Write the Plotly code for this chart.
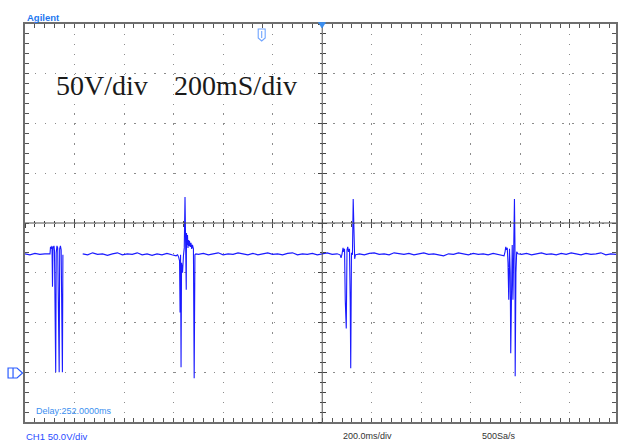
import plotly.graph_objects as go

# ---------------- data (time in ms, voltage in V; 200 ms/div, 50 V/div) ----------------
t_base_a = [0, 20, 40, 60, 80, 96]
v_base_a = [119, 118, 119.5, 118.5, 119, 118.5]

t_burst_1 = [101, 103, 106, 109, 111, 113, 117, 119, 121, 124, 126, 129, 132, 135, 138,
             140, 143, 146, 149, 151, 153]
v_burst_1 = [119, 126, 124, 127, 86, 125, 127, 122, 0, 0, 120, 127, 125, 0, 0,
             124, 127, 123, 0, 0, 118]

t_base_b = [233, 253, 273, 293, 313, 333, 353, 373, 393, 413, 433, 453, 473, 493, 513,
            533, 553, 573, 593, 610]
v_base_b = [119, 118, 120, 118.5, 119, 117.5, 119, 120, 118, 119, 118.5, 120, 118, 119,
            117.5, 119, 118, 119.5, 118, 117]

t_burst_2 = [616, 620, 624, 626, 628, 630, 632, 636, 640, 643, 646, 648, 650, 651, 652,
             654, 656, 658, 660, 662, 664, 667, 670, 673, 676, 680, 683, 686, 690]
v_burst_2 = [118, 116, 112, 60, 118, 5, 110, 100, 118, 125, 176, 145, 130, 83, 140,
             128, 138, 125, 133, 127, 132, 126, 130, 124, 128, 124, -6, 118, 119]

t_base_c = [700, 720, 740, 760, 780, 800, 820, 840, 860, 880, 900, 920, 940, 960, 980,
            1000, 1020, 1040, 1060, 1080, 1100, 1120, 1140, 1160, 1180, 1200, 1220, 1240,
            1260]
v_base_c = [118.5, 119.5, 118, 119, 120, 118, 119, 118.5, 120, 119, 118, 119.5, 118,
            119, 120, 118.5, 119, 118, 119.5, 120, 118, 119, 118.5, 119.5, 118, 119,
            120, 118.5, 119]

t_burst_3 = [1272, 1276, 1280, 1284, 1287, 1290, 1293, 1297, 1300, 1303, 1306, 1310, 1313,
             1315, 1318, 1322, 1325, 1328, 1331, 1334]
v_burst_3 = [118, 115, 119, 125, 121, 124, 72, 44, 123, 126, 121, 124, 72,
             4, 120, 118, 174, 118, 114, 118]

t_base_d = [1350, 1370, 1390, 1410, 1430, 1450, 1470, 1490, 1510, 1530, 1550, 1570, 1590,
            1610, 1630, 1650, 1670, 1690, 1710, 1730, 1750, 1770, 1790, 1810, 1830, 1850,
            1870, 1890, 1910]
v_base_d = [119, 118, 119.5, 120, 118.5, 119, 118, 120, 119, 118.5, 119.5, 118, 119, 120,
            118.5, 119, 118, 117, 119, 118.5, 120, 119, 118, 119.5, 118.5, 119, 118,
            119.5, 118.5]

t_burst_4 = [1928, 1934, 1938, 1941, 1944, 1947, 1950, 1953, 1956, 1959, 1961, 1964, 1967,
             1970, 1973, 1976, 1978, 1979, 1982, 1985, 1990]
v_burst_4 = [118, 117, 121, 126, 123, 125, 110, 73, 124, 100, 19, 122, 128,
             73, 120, 174, 130, -4, 100, 121, 119]

t_base_e = [2005, 2025, 2045, 2065, 2085, 2105, 2125, 2145, 2165, 2185, 2205, 2225, 2245,
            2265, 2285, 2305, 2325, 2345, 2365, 2386]
v_base_e = [118.5, 119.5, 118, 119, 120, 118.5, 119, 118, 119.5, 118.5, 120, 119, 118,
            119.5, 118.5, 119, 120, 118, 119, 118.5]

# segments (a gap follows burst 1)
segments = [
    (t_base_a + t_burst_1, v_base_a + v_burst_1),
    (t_base_b + t_burst_2 + t_base_c + t_burst_3 + t_base_d + t_burst_4 + t_base_e,
     v_base_b + v_burst_2 + v_base_c + v_burst_3 + v_base_d + v_burst_4 + v_base_e),
]

x_range = [0, 2386]
y_range = [-50, 350]

# ---------------- figure ----------------
W, H = 620, 442
ML, MR, MT, MB = 25, 2, 24, 20
PW, PH = W - ML - MR, H - MT - MB


def px(x):
    return (x - ML) / PW


def py(y):
    return (H - MB - y) / PH


fig = go.Figure()

tx, vy = [], []
for i, (ts, vs) in enumerate(segments):
    if i:
        tx.append(None)
        vy.append(None)
    tx += ts
    vy += vs

fig.add_trace(go.Scatter(x=tx, y=vy, mode="lines",
                         line=dict(color="#1a1aff", width=1.1),
                         hoverinfo="skip", showlegend=False))

# empty traces to activate the centre tick axes
for xa, ya in [("x2", "y"), ("x3", "y"), ("x", "y2"), ("x", "y3")]:
    fig.add_trace(go.Scatter(x=[], y=[], xaxis=xa, yaxis=ya, showlegend=False,
                             hoverinfo="skip"))

grid_col = "#8c8c8c"
border_col = "#6e6e6e"
tick_col = "#555555"

common_main = dict(showticklabels=False, zeroline=False, showgrid=True,
                   gridcolor=grid_col, gridwidth=1.4,
                   ticks="inside", ticklen=4, tickcolor=tick_col, tickwidth=1,
                   showline=True, linecolor=border_col, linewidth=2, mirror="allticks",
                   fixedrange=True)

fig.update_layout(
    width=W, height=H,
    margin=dict(l=ML, r=MR, t=MT, b=MB, pad=0),
    paper_bgcolor="white", plot_bgcolor="white",
    showlegend=False,
    xaxis=dict(range=x_range, tick0=0, dtick=200, griddash="1.4px,8.54px",
               minor=dict(dtick=40, ticks="inside", ticklen=3, tickcolor=tick_col,
                          showgrid=False),
               **common_main),
    yaxis=dict(range=y_range, tick0=-50, dtick=50, griddash="1.4px,8.55px",
               minor=dict(dtick=10, ticks="inside", ticklen=3, tickcolor=tick_col,
                          showgrid=False),
               **common_main),
)

centre_common = dict(showticklabels=False, zeroline=False, showgrid=False,
                     showline=False, ticklen=4, tickcolor="#444", tickwidth=1,
                     fixedrange=True)
fig.update_layout(
    xaxis2=dict(overlaying="x", anchor="free", position=0.5, range=x_range, tick0=0,
                dtick=200, ticks="outside",
                minor=dict(dtick=40, ticks="outside", ticklen=2.5, tickcolor="#444"),
                **centre_common),
    xaxis3=dict(overlaying="x", anchor="free", position=0.5, range=x_range, tick0=0,
                dtick=200, ticks="inside",
                minor=dict(dtick=40, ticks="inside", ticklen=2.5, tickcolor="#444"),
                **centre_common),
    yaxis2=dict(overlaying="y", anchor="free", position=1200 / x_range[1], range=y_range,
                tick0=-50, dtick=50, ticks="outside",
                minor=dict(dtick=10, ticks="outside", ticklen=2.5, tickcolor="#444"),
                **centre_common),
    yaxis3=dict(overlaying="y", anchor="free", position=1200 / x_range[1], range=y_range,
                tick0=-50, dtick=50, ticks="inside",
                minor=dict(dtick=10, ticks="inside", ticklen=2.5, tickcolor="#444"),
                **centre_common),
)

shapes = [
    # centre crosshair
    dict(type="line", xref="x", yref="paper", x0=1200, x1=1200, y0=0, y1=1,
         line=dict(color="#505050", width=1)),
    dict(type="line", xref="paper", yref="y", x0=0, x1=1, y0=150, y1=150,
         line=dict(color="#505050", width=1)),
    # ground marker (channel 1)
    dict(type="path", xref="paper", yref="paper",
         path=f"M{px(8)},{py(368)} L{px(17)},{py(368)} L{px(22.5)},{py(373)} "
              f"L{px(17)},{py(378)} L{px(8)},{py(378)} Z",
         line=dict(color="#2a5cff", width=1.2), fillcolor="rgba(0,0,0,0)"),
    dict(type="line", xref="paper", yref="paper", x0=px(13), x1=px(13), y0=py(368),
         y1=py(378), line=dict(color="#2a5cff", width=1.2)),
    # trigger marker
    dict(type="path", xref="paper", yref="paper",
         path=f"M{px(259)},{py(29)} L{px(266)},{py(29)} L{px(266)},{py(38)} "
              f"L{px(262.5)},{py(41)} L{px(259)},{py(38)} Z",
         line=dict(color="#6fa4ff", width=1.1), fillcolor="rgba(0,0,0,0)"),
    dict(type="line", xref="paper", yref="paper", x0=px(262.5), x1=px(262.5),
         y0=py(31), y1=py(38), line=dict(color="#6fa4ff", width=1.1)),
    # delay marker at top centre
    dict(type="path", xref="paper", yref="paper",
         path=f"M{px(319.5)},{py(22.5)} L{px(326.5)},{py(22.5)} L{px(323)},{py(28)} Z",
         line=dict(color="#3a8ef0", width=0.8), fillcolor="#3a8ef0"),
]
fig.update_layout(shapes=shapes)

ann = [
    dict(text="<b>Agilent</b>", x=px(25.5), y=py(17), xanchor="left", yanchor="middle",
         font=dict(family="Liberation Sans", size=9.5, color="#1e78f0")),
    dict(text="50V/div", x=px(54), y=py(85), xanchor="left", yanchor="middle",
         font=dict(family="Liberation Serif", size=28, color="#1a1a1a")),
    dict(text="200mS/div", x=px(172), y=py(85), xanchor="left", yanchor="middle",
         font=dict(family="Liberation Serif", size=28, color="#1a1a1a")),
    dict(text="Delay:252.0000ms", x=px(34), y=py(411), xanchor="left", yanchor="middle",
         font=dict(family="Liberation Sans", size=9, color="#3a8ef0")),
    dict(text="CH1 50.0V/div", x=px(24), y=py(436), xanchor="left", yanchor="middle",
         font=dict(family="Liberation Sans", size=9.5, color="#2a4cff")),
    dict(text="200.0ms/div", x=px(342), y=py(436), xanchor="left", yanchor="middle",
         font=dict(family="Liberation Sans", size=9, color="#333333")),
    dict(text="500Sa/s", x=px(482), y=py(436), xanchor="left", yanchor="middle",
         font=dict(family="Liberation Sans", size=9, color="#333333")),
]
for a in ann:
    a.update(xref="paper", yref="paper", showarrow=False)
fig.update_layout(annotations=ann)

fig.write_html(
    "out.html",
    config={"displayModeBar": False},
    post_script="document.body.style.margin='0';document.body.style.overflow='hidden';",
)
